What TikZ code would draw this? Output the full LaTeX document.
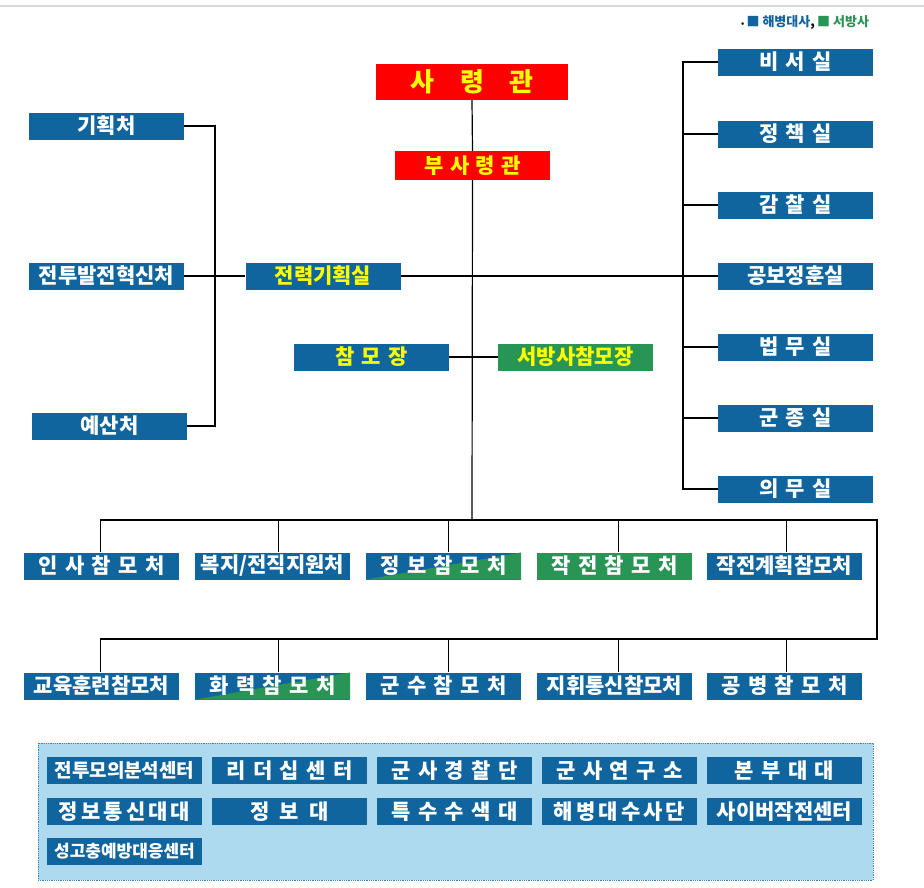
\documentclass[tikz,border=0pt]{standalone}
\usepackage{fontspec}
\newfontfamily\kr{Noto Sans CJK KR}
\definecolor{mblue}{RGB}{17,101,158}
\definecolor{mgreen}{RGB}{41,149,85}
\definecolor{mred}{RGB}{255,0,0}
\definecolor{myellow}{RGB}{255,255,0}
\definecolor{panelbg}{RGB}{173,218,238}
\definecolor{paneledge}{RGB}{60,130,190}
\newcommand{\gp}{\hspace{0.35em}}
\newcommand{\ngp}{\hspace{0.15em}}
\newcommand{\wgp}{\hspace{1.0em}}
\tikzset{
  orgbox/.style={fill=mblue, text=white, inner sep=0pt, minimum width=155pt, minimum height=27pt,
    font=\kr\bfseries\fontsize{21}{21}\selectfont},
  redbox/.style={orgbox, fill=mred, text=myellow},
  greenbox/.style={orgbox, fill=mgreen},
  yel/.style={text=myellow},
  splitbox/.style={orgbox, path picture={\fill[mgreen] (path picture bounding box.south west) -- (path picture bounding box.north east) -- (path picture bounding box.south east) -- cycle;}},
  link/.style={line width=1.2pt, black},
  thin/.style={line width=0.8pt, black}
}
\begin{document}
\begin{tikzpicture}[x=1pt,y=-1pt]
\useasboundingbox (0,0) rectangle (924,887);
\fill[white] (0,0) rectangle (924,887);
\draw[line width=1.2pt, black!15] (0,6) -- (924,6);

% legend
\node[anchor=west, inner sep=0pt, font=\kr\bfseries\fontsize{13}{13}\selectfont] (legend) at (741,22)
  {{\fontsize{8}{8}\selectfont •}\,\textcolor{mblue}{■ 해병대사},\,\textcolor{mgreen}{■ 서방사}};

% command
\node[redbox, minimum width=192pt, minimum height=36pt, font=\kr\bfseries\fontsize{26}{26}\selectfont] (cmd) at (472,82) {사\wgp 령\wgp 관};
\node[redbox, minimum height=29pt, font=\kr\bfseries\fontsize{21}{21}\selectfont] (vice) at (472.5,165.5) {부\hspace{0.3em}사\hspace{0.3em}령\hspace{0.3em}관};

% left column
\node[orgbox] (gh) at (106.5,126) {기획처};
\node[orgbox] (jt) at (106.5,276) {전투발전혁신처};
\node[orgbox] (ys) at (109.5,426) {예산처};
\node[orgbox, yel] (jrk) at (323,276) {전력기획실};

% right column
\node[orgbox] (r1) at (795.5,62) {비\gp 서\gp 실};
\node[orgbox] (r2) at (795.5,134) {정\gp 책\gp 실};
\node[orgbox] (r3) at (795.5,205) {감\gp 찰\gp 실};
\node[orgbox] (r4) at (795.5,276) {공보정훈실};
\node[orgbox] (r5) at (795.5,347) {법\gp 무\gp 실};
\node[orgbox] (r6) at (795.5,418) {군\gp 종\gp 실};
\node[orgbox] (r7) at (795.5,489) {의\gp 무\gp 실};

% chief of staff
\node[orgbox, yel] (cos) at (371.5,357) {참\gp 모\gp 장};
\node[greenbox, yel] (scos) at (575.5,357) {서방사참모장};

% row 1
\node[orgbox] (a1) at (101.5,566) {인\gp 사\gp 참\gp 모\gp 처};
\node[orgbox] (a2) at (272.5,566) {복지/전직지원처};
\node[splitbox] (a3) at (443.5,566) {정\gp 보\gp 참\gp 모\gp 처};
\node[greenbox] (a4) at (614.5,566) {작\gp 전\gp 참\gp 모\gp 처};
\node[orgbox] (a5) at (784.5,566) {작전계획참모처};

% row 2
\node[orgbox] (b1) at (101.5,686) {교육훈련참모처};
\node[splitbox] (b2) at (272.5,686) {화\gp 력\gp 참\gp 모\gp 처};
\node[orgbox] (b3) at (443.5,686) {군\gp 수\gp 참\gp 모\gp 처};
\node[orgbox] (b4) at (614.5,686) {지휘통신참모처};
\node[orgbox] (b5) at (784.5,686) {공\gp 병\gp 참\gp 모\gp 처};

% connectors: main spine
\coordinate (bus1) at (472,520);
\coordinate (bus1L) at (100,520);
\coordinate (bus1R) at (877,520);
\coordinate (bus2L) at (100,639);
\coordinate (bus2R) at (877,639);
\draw[link] (cmd.south) -- (vice.north);
\draw[link] (vice.south) -- (bus1);

% left column
\coordinate (lv) at (215,276);
\draw[link] (gh.east) -| (lv);
\draw[link] (ys.east) -| (lv);
\draw[link] (jt.east) -- (jrk.west);
\draw[link] (jrk.east) -- (r4.west);

% right column
\coordinate (rv1) at (683,62);
\coordinate (rv7) at (683,489);
\draw[link] (r1.west) -- (rv1) -- (rv7) -- (r7.west);
\foreach \n in {r2,r3,r5,r6} \draw[link] (\n.west) -- (\n.west -| rv1);

% chief of staff
\draw[link] (cos.east) -- (scos.west);

% buses
\draw[link] (bus1L) -- (bus1R) -- (bus2R) -- (bus2L);
\foreach \n/\x in {a1/100,a2/278,a3/448,a4/618,a5/786}
  \draw[thin] (\x,520) -- (\n.north -| \x,0);
\foreach \n/\x in {b1/100,b2/278,b3/448,b4/618,b5/786}
  \draw[thin] (\x,639) -- (\n.north -| \x,0);

% bottom panel
\node[draw=paneledge, densely dotted, fill=panelbg, line width=0.8pt, minimum width=835pt, minimum height=137pt, inner sep=0pt] (panel) at (455.5,811.5) {};
\node[orgbox, font=\kr\bfseries\fontsize{19}{19}\selectfont] (c1) at (124.5,770.5) {전투모의분석센터};
\node[orgbox] (c2) at (289.5,770.5) {리\gp 더\gp 십\gp 센\gp 터};
\node[orgbox] (c3) at (454.5,770.5) {군\gp 사\gp 경\gp 찰\gp 단};
\node[orgbox] (c4) at (619.5,770.5) {군\gp 사\gp 연\gp 구\gp 소};
\node[orgbox] (c5) at (784.5,770.5) {본\gp 부\gp 대\gp 대};
\node[orgbox] (d1) at (124.5,811.5) {정\ngp 보\ngp 통\ngp 신\ngp 대\ngp 대};
\node[orgbox] (d2) at (289.5,811.5) {정\hspace{0.5em}보\hspace{0.5em}대};
\node[orgbox] (d3) at (454.5,811.5) {특\gp 수\gp 수\gp 색\gp 대};
\node[orgbox] (d4) at (619.5,811.5) {해\ngp 병\ngp 대\ngp 수\ngp 사\ngp 단};
\node[orgbox] (d5) at (784.5,811.5) {사이버작전센터};
\node[orgbox, font=\kr\bfseries\fontsize{17}{17}\selectfont] (e1) at (124.5,851.5) {성고충예방대응센터};
\end{tikzpicture}
\end{document}
